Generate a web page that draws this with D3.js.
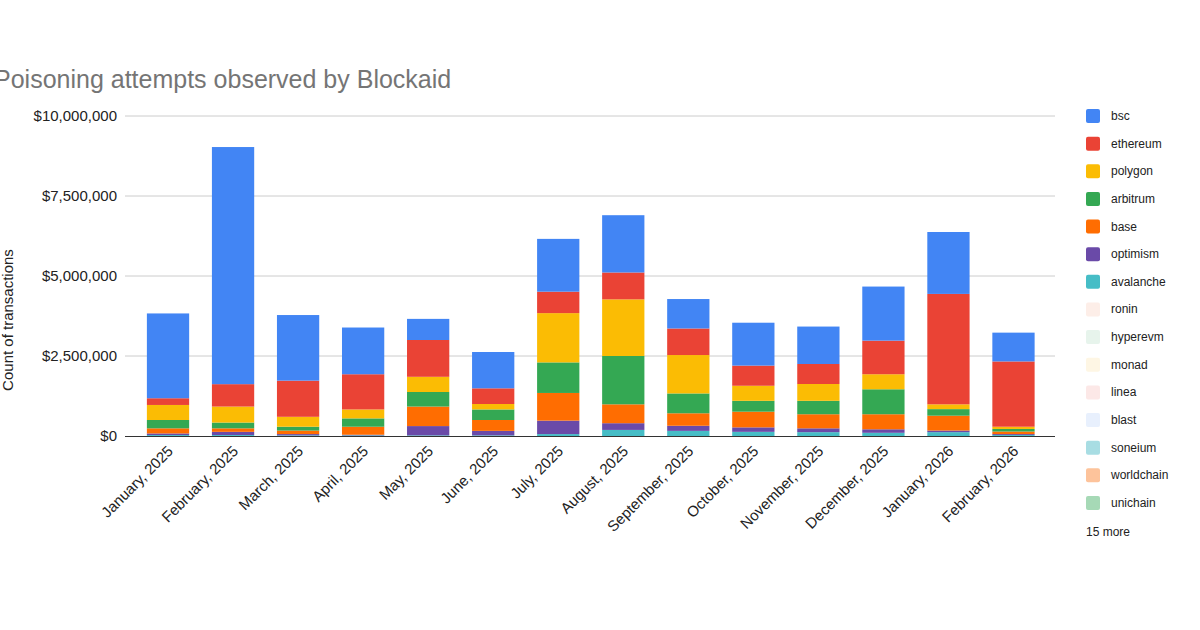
<!DOCTYPE html>
<html><head><meta charset="utf-8">
<script src="https://cdn.jsdelivr.net/npm/d3@7"></script>
<style>
html,body{margin:0;padding:0;background:#fff;}
svg{display:block;font-family:"Liberation Sans",Arial,sans-serif;}
</style></head>
<body>
<svg id="chart" width="1200" height="630"></svg>
<script>
const months = ["January, 2025","February, 2025","March, 2025","April, 2025","May, 2025","June, 2025","July, 2025","August, 2025","September, 2025","October, 2025","November, 2025","December, 2025","January, 2026","February, 2026"];
const seriesNames = ["bsc","ethereum","polygon","arbitrum","base","optimism","avalanche"];
// values in millions of dollars
const bsc       = [2.65,7.41,2.05,1.46,0.66,1.135,1.65,1.79,0.92,1.34,1.17,1.69,1.935,0.90];
const ethereum  = [0.21,0.70,1.13,1.10,1.15,0.49,0.67,0.84,0.83,0.63,0.625,1.05,3.45,2.04];
const polygon   = [0.47,0.50,0.31,0.28,0.475,0.17,1.54,1.77,1.20,0.47,0.525,0.47,0.15,0.07];
const arbitrum  = [0.26,0.18,0.12,0.26,0.455,0.33,0.955,1.51,0.62,0.34,0.42,0.78,0.205,0.08];
const base      = [0.16,0.11,0.11,0.25,0.61,0.34,0.865,0.59,0.39,0.49,0.44,0.47,0.465,0.08];
const optimism  = [0.05,0.10,0.04,0.02,0.29,0.14,0.42,0.21,0.16,0.14,0.12,0.11,0.05,0.03];
const avalanche = [0.03,0.03,0.02,0.02,0.02,0.02,0.06,0.19,0.16,0.13,0.12,0.10,0.12,0.03];
const yTicks = [0,2500000,5000000,7500000,10000000];
const legendNames = ["bsc","ethereum","polygon","arbitrum","base","optimism","avalanche","ronin","hyperevm","monad","linea","blast","soneium","worldchain","unichain"];
const legendColors = ["#4285F4","#EA4335","#FBBC04","#34A853","#FF6D01","#6A4AA8","#46BDC6","#FDEEE8","#E7F4EC","#FEF6E4","#FCE8E7","#E8F0FD","#A8DDE3","#FDC39B","#A6D9B6"];
const moreText = "15 more";

const seriesVals = [bsc,ethereum,polygon,arbitrum,base,optimism,avalanche];
const rows = months.map((m,i)=>{const r={month:m}; seriesNames.forEach((s,j)=>r[s]=seriesVals[j][i]*1e6); return r;});
const stackKeys = seriesNames.slice().reverse();
const stacked = d3.stack().keys(stackKeys)(rows);
const color = d3.scaleOrdinal().domain(legendNames).range(legendColors);

const svg = d3.select("#chart");
const x = d3.scaleBand().domain(months).range([135.5,1046]).paddingInner(0.35).paddingOuter(0.175);
const y = d3.scaleLinear().domain([0,10000000]).range([436,116]);

// title
svg.append("text").attr("x",-6).attr("y",88).attr("font-size",25).attr("fill","#757575").text("Poisoning attempts observed by Blockaid");

// gridlines
svg.append("g").selectAll("line").data(yTicks.filter(d=>d>0)).join("line")
  .attr("x1",125).attr("x2",1055).attr("y1",d=>y(d)).attr("y2",d=>y(d))
  .attr("stroke","#cccccc").attr("stroke-width",1);

// y labels
const fmt = d=>"$"+d3.format(",")(d);
svg.append("g").selectAll("text").data(yTicks).join("text")
  .attr("x",117).attr("y",d=>y(d)+5).attr("text-anchor","end").attr("font-size",15).attr("fill","#222").text(fmt);

// y title
svg.append("text").attr("transform","translate(13,320) rotate(-90)").attr("text-anchor","middle").attr("font-size",15).attr("fill","#222").text("Count of transactions");

// bars
svg.append("g").selectAll("g").data(stacked).join("g").attr("fill",d=>color(d.key))
  .selectAll("rect").data(d=>d).join("rect")
  .attr("x",d=>x(d.data.month)).attr("width",x.bandwidth())
  .attr("y",d=>y(d[1])).attr("height",d=>Math.max(0,y(d[0])-y(d[1])));

// baseline
svg.append("line").attr("x1",125).attr("x2",1055).attr("y1",y(0)+0.5).attr("y2",y(0)+0.5).attr("stroke","#333").attr("stroke-width",1);

// x labels
svg.append("g").selectAll("text").data(months).join("text")
  .attr("transform",d=>`translate(${x(d)+x.bandwidth()/2+6},452) rotate(-45)`)
  .attr("text-anchor","end").attr("font-size",15).attr("fill","#222").text(d=>d);

// legend
const lg = svg.append("g").selectAll("g").data(legendNames).join("g")
  .attr("transform",(d,i)=>`translate(1086,${116+i*27.64})`);
lg.append("rect").attr("x",0).attr("y",-7).attr("width",14).attr("height",14).attr("rx",2).attr("fill",d=>color(d));
lg.append("text").attr("x",25).attr("y",4).attr("font-size",12).attr("fill","#222").text(d=>d);
svg.append("text").attr("x",1086).attr("y",536).attr("font-size",12).attr("fill","#222").text(moreText);
</script>
</body></html>
